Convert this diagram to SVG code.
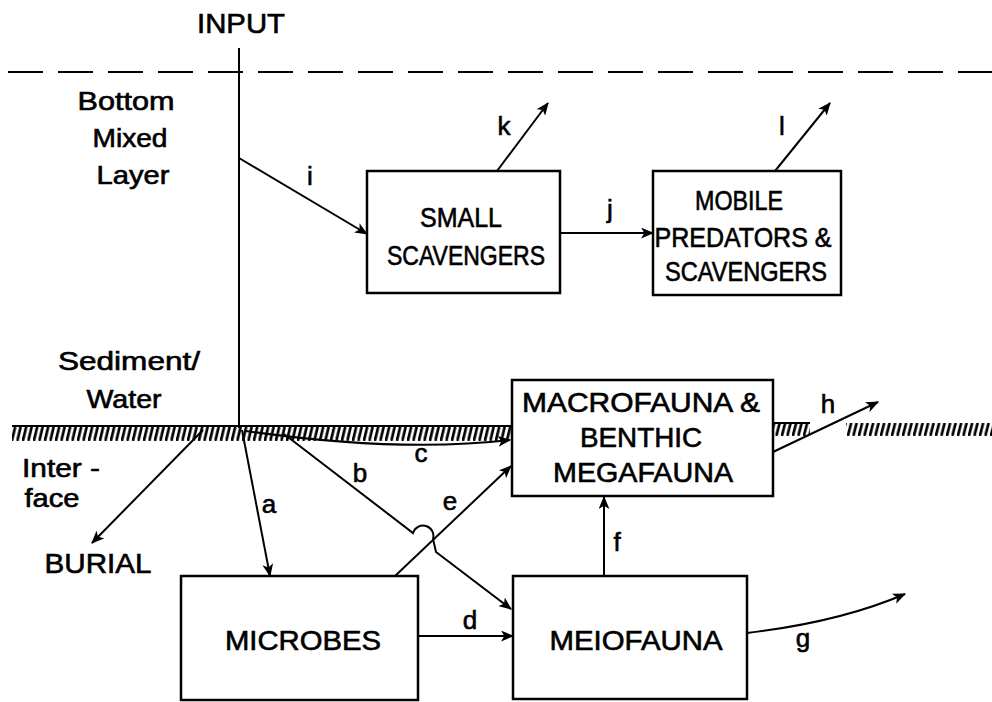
<svg xmlns="http://www.w3.org/2000/svg" width="992" height="702" viewBox="0 0 992 702">
  <style>
    .box { fill: none; stroke: #000; stroke-width: 2.5; }
    .ln { fill: none; stroke: #000; stroke-width: 2; }
    .arr { fill: none; stroke: #000; stroke-width: 2; marker-end: url(#head); }
    .t { font-family: "Liberation Sans", Arial, sans-serif; fill: #000; stroke: #000; stroke-width: 0.6; text-anchor: middle; }
    .cap { font-size: 27px; }
    .lc { font-size: 25px; }
    .lab { font-size: 26px; }
  </style>
  <defs>
    <marker id="head" viewBox="0 0 12 10" refX="11" refY="5" markerWidth="13" markerHeight="11" markerUnits="userSpaceOnUse" orient="auto">
      <path d="M0,0 L12,5 L0,10 L3,5 Z" fill="#000"/>
    </marker>
    <pattern id="hatch" patternUnits="userSpaceOnUse" x="0" y="427" width="5.5" height="14">
      <path d="M0.8,14 L4.2,0" stroke="#000" stroke-width="2.7"/>
    </pattern>
    <pattern id="hatch2" patternUnits="userSpaceOnUse" x="0" y="423" width="5.5" height="13">
      <path d="M0.8,13 L4.2,0" stroke="#000" stroke-width="2.7"/>
    </pattern>
  </defs>

  <rect width="992" height="702" fill="#fff"/>

  <!-- water-column boundary and sediment/water interface -->
  <g id="layers">
    <line x1="8" y1="72" x2="992" y2="72" stroke="#000" stroke-width="2" stroke-dasharray="35 15"/>
    <rect x="12" y="427" width="500" height="14" fill="url(#hatch)"/>
    <line x1="12" y1="426" x2="512" y2="426" class="ln"/>
    <rect x="773" y="423" width="37" height="13" fill="url(#hatch2)"/>
    <line x1="773" y1="423" x2="810" y2="423" class="ln"/>
    <rect x="846" y="423" width="146" height="13" fill="url(#hatch2)"/>
  </g>

  <g id="zone-labels">
    <text class="t cap" x="241" y="33" textLength="88" lengthAdjust="spacingAndGlyphs">INPUT</text>
    <text class="t lc" x="126" y="110" textLength="97" lengthAdjust="spacingAndGlyphs">Bottom</text>
    <text class="t lc" x="130" y="147" textLength="75" lengthAdjust="spacingAndGlyphs">Mixed</text>
    <text class="t lc" x="133" y="184" textLength="73" lengthAdjust="spacingAndGlyphs">Layer</text>
    <text class="t lc" x="129" y="370" textLength="142" lengthAdjust="spacingAndGlyphs">Sediment/</text>
    <text class="t lc" x="124" y="408" textLength="75" lengthAdjust="spacingAndGlyphs">Water</text>
    <text class="t lc" x="61" y="477" textLength="78" lengthAdjust="spacingAndGlyphs">Inter -</text>
    <text class="t lc" x="52" y="507" textLength="55" lengthAdjust="spacingAndGlyphs">face</text>
    <text class="t cap" x="98" y="573" textLength="107" lengthAdjust="spacingAndGlyphs">BURIAL</text>
  </g>

  <g id="small-scavengers">
    <rect class="box" x="367" y="171" width="193" height="122"/>
    <text class="t cap" x="461" y="227" textLength="82" lengthAdjust="spacingAndGlyphs">SMALL</text>
    <text class="t cap" x="466" y="265" textLength="158" lengthAdjust="spacingAndGlyphs">SCAVENGERS</text>
  </g>

  <g id="mobile-predators">
    <rect class="box" x="653" y="171" width="188" height="124"/>
    <text class="t cap" x="739" y="210" textLength="88" lengthAdjust="spacingAndGlyphs">MOBILE</text>
    <text class="t cap" x="743" y="247" textLength="177" lengthAdjust="spacingAndGlyphs">PREDATORS &amp;</text>
    <text class="t cap" x="746" y="281" textLength="162" lengthAdjust="spacingAndGlyphs">SCAVENGERS</text>
  </g>

  <g id="macrofauna">
    <rect class="box" x="512" y="380" width="261" height="116"/>
    <text class="t cap" x="641" y="412" textLength="238" lengthAdjust="spacingAndGlyphs">MACROFAUNA &amp;</text>
    <text class="t cap" x="641" y="447" textLength="122" lengthAdjust="spacingAndGlyphs">BENTHIC</text>
    <text class="t cap" x="643" y="482" textLength="180" lengthAdjust="spacingAndGlyphs">MEGAFAUNA</text>
  </g>

  <g id="microbes">
    <rect class="box" x="181" y="576" width="237" height="124"/>
    <text class="t cap" x="303" y="650" textLength="156" lengthAdjust="spacingAndGlyphs">MICROBES</text>
  </g>

  <g id="meiofauna">
    <rect class="box" x="513" y="576" width="234" height="123"/>
    <text class="t cap" x="636" y="650" textLength="173" lengthAdjust="spacingAndGlyphs">MEIOFAUNA</text>
  </g>

  <!-- flux paths -->
  <g id="connectors">
    <path class="ln" d="M239,48 V428"/>
    <path class="arr" d="M239,158 L367,234"/>
    <path class="arr" d="M560,233 L653,233"/>
    <path class="arr" d="M497,171 L548,103"/>
    <path class="arr" d="M775,171 L830,103"/>
    <path class="arr" d="M242,430 L270,576"/>
    <path class="arr" d="M203,430 L92,543"/>
    <path class="arr" d="M284,434 L413,533 A10,10 0 0 1 433,539 L436,552 L511,609"/>
    <path class="arr" d="M395,576 L511,466"/>
    <path class="arr" d="M246,431 Q400,453 510,440"/>
    <path class="arr" d="M418,636 L513,636"/>
    <path class="arr" d="M604,576 V497"/>
    <path class="arr" d="M747,633 Q840,622 905,594"/>
    <path class="arr" d="M773,452 L878,402"/>
  </g>

  <g id="flux-labels">
    <text class="t lab" x="310" y="185">i</text>
    <text class="t lab" x="610" y="218">j</text>
    <text class="t lab" x="504" y="135">k</text>
    <text class="t lab" x="782" y="135">l</text>
    <text class="t lab" x="269" y="513">a</text>
    <text class="t lab" x="360" y="482">b</text>
    <text class="t lab" x="421" y="462">c</text>
    <text class="t lab" x="450" y="510">e</text>
    <text class="t lab" x="828" y="413">h</text>
    <text class="t lab" x="617" y="551">f</text>
    <text class="t lab" x="470" y="629">d</text>
    <text class="t lab" x="803" y="647">g</text>
  </g>
</svg>
